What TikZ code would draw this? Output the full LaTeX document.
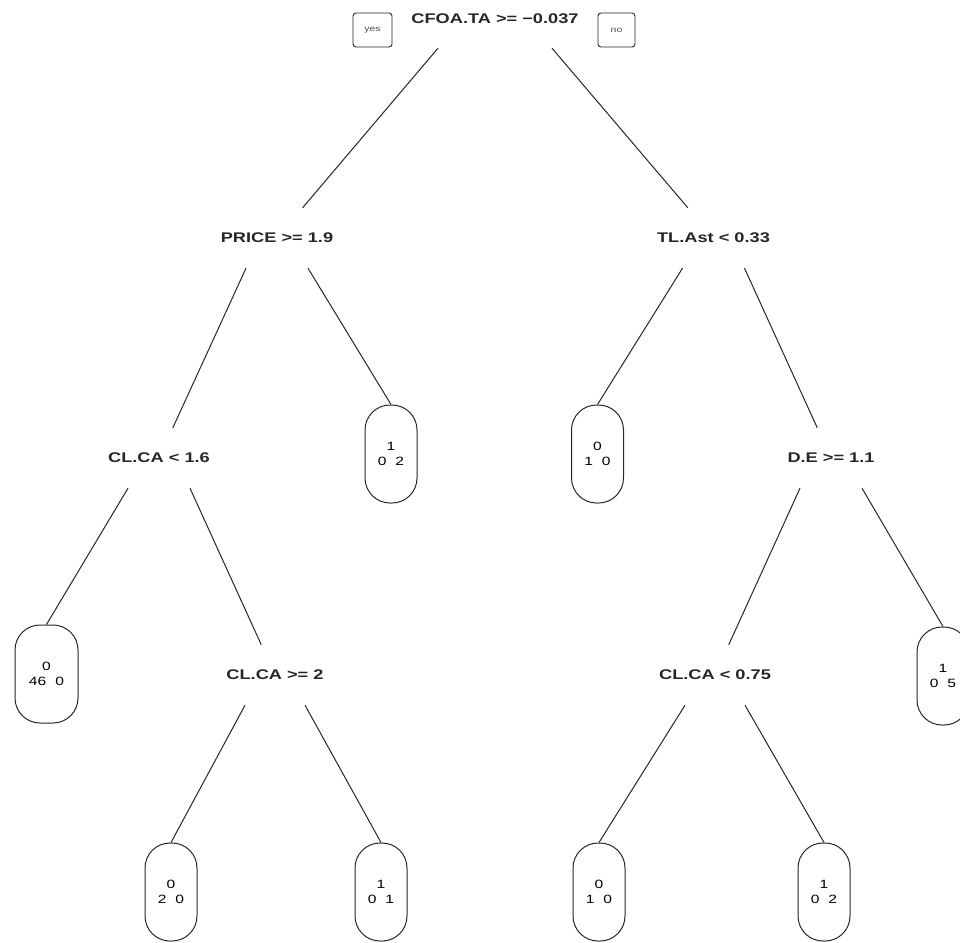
\documentclass[tikz,border=0pt]{standalone}
\usepackage{fontspec}
\setmainfont{Liberation Sans}
\newfontfamily\treefont{Liberation Sans}[FakeStretch=1.3]

\begin{document}
\begin{tikzpicture}[x=1pt,y=-1pt,
    split/.style={inner sep=0pt,minimum height=60pt,text=black!85,
        font=\treefont\bfseries\fontsize{14}{16}\selectfont},
    leaf/.style={draw=black!85,line width=1pt,rounded corners=25pt,
        minimum width=52pt,minimum height=98pt,inner sep=0pt,align=center,
        font=\treefont\fontsize{12}{15}\selectfont},
    tag/.style={draw=black!85,line width=0.9pt,rounded corners=3pt,
        minimum height=34pt,inner sep=0pt,text=black!70,
        font=\treefont\fontsize{8}{9}\selectfont},
    branch/.style={line width=1pt,draw=black!85}]
    \useasboundingbox (0,0) rectangle (960,942);
    \clip (0,0) rectangle (960,942);

    \node[split,minimum height=58pt] (root) at (495,19) {CFOA.TA >= −0.037};
    \node[tag,minimum width=39pt] (yes) at (372.5,30) {yes};
    \node[tag,minimum width=37pt] (no) at (616.5,30) {no};

    \node[split] (price) at (277,238) {PRICE >= 1.9};
    \node[split] (tlast) at (713.5,238) {TL.Ast < 0.33};

    \node[split] (clcaone) at (159,458) {CL.CA < 1.6};
    \node[leaf] (leafa) at (391,454) {1\\0\hspace{9pt}2};
    \node[leaf] (leafb) at (597.5,454) {0\\1\hspace{9pt}0};
    \node[split] (de) at (831,458) {D.E >= 1.1};

    \node[leaf,minimum width=63pt] (leafc) at (46.5,674) {0\\46\hspace{9pt}0};
    \node[split] (clcatwo) at (275,675) {CL.CA >= 2};
    \node[split] (clcathree) at (715,675) {CL.CA < 0.75};
    \node[leaf] (leafd) at (943,676) {1\\0\hspace{9pt}5};

    \node[leaf] (leafe) at (171,892) {0\\2\hspace{9pt}0};
    \node[leaf] (leaff) at (381,892) {1\\0\hspace{9pt}1};
    \node[leaf] (leafg) at (599,892) {0\\1\hspace{9pt}0};
    \node[leaf] (leafh) at (824,892) {1\\0\hspace{9pt}2};

    \draw[branch] ([xshift=-57pt]root.south) -- (price);
    \draw[branch] ([xshift=57pt]root.south) -- (tlast);

    \draw[branch] ([xshift=-31pt]price.south) -- (clcaone);
    \draw[branch] ([xshift=31pt]price.south) -- (leafa.north);
    \draw[branch] ([xshift=-31pt]tlast.south) -- (leafb.north);
    \draw[branch] ([xshift=31pt]tlast.south) -- (de);

    \draw[branch] ([xshift=-31pt]clcaone.south) -- (leafc.north);
    \draw[branch] ([xshift=31pt]clcaone.south) -- (clcatwo);
    \draw[branch] ([xshift=-31pt]de.south) -- (clcathree);
    \draw[branch] ([xshift=31pt]de.south) -- (leafd.north);

    \draw[branch] ([xshift=-30pt]clcatwo.south) -- (leafe.north);
    \draw[branch] ([xshift=30pt]clcatwo.south) -- (leaff.north);
    \draw[branch] ([xshift=-30pt]clcathree.south) -- (leafg.north);
    \draw[branch] ([xshift=30pt]clcathree.south) -- (leafh.north);
\end{tikzpicture}
\end{document}
